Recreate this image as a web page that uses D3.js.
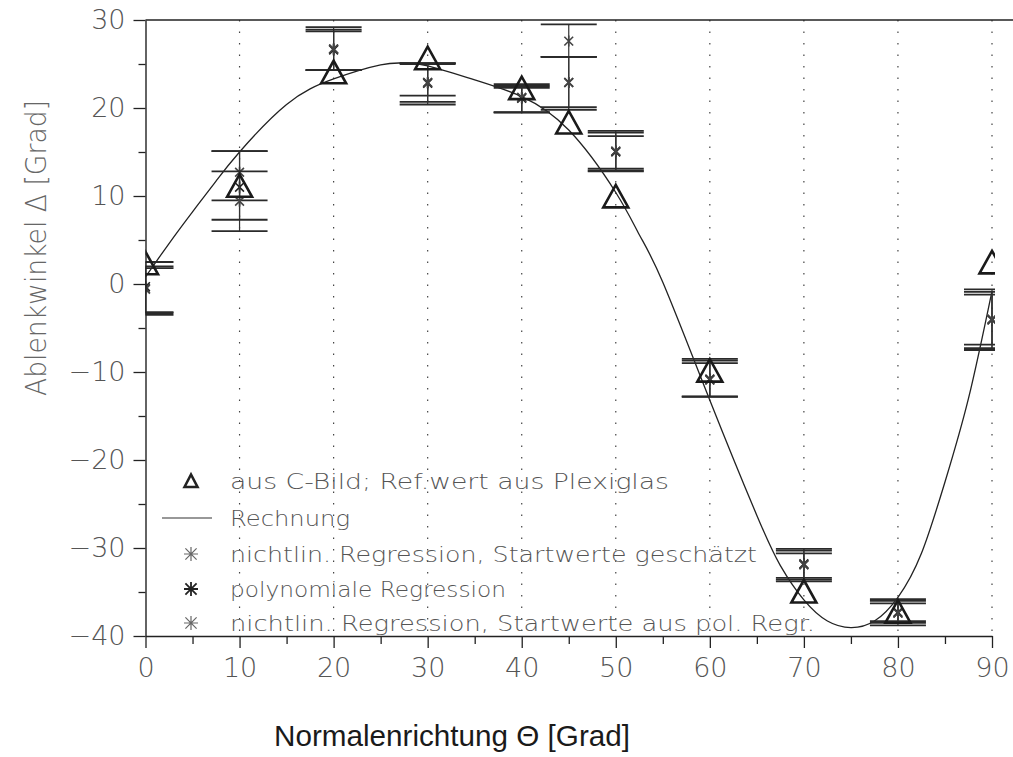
<!DOCTYPE html>
<html>
<head>
<meta charset="utf-8">
<script src="https://cdn.jsdelivr.net/npm/d3@7"></script>
<style>
  body { margin: 0; background: #fff; }
  text { font-family: "DejaVu Sans", sans-serif; font-weight: 200; }
</style>
</head>
<body>
<svg id="chart"></svg>
<script>
// Messwinkel (Grad)
const theta = [0, 10, 20, 30, 40, 45, 50, 60, 70, 80, 90];

// aus C-Bild; Ref.wert aus Plexiglas
const cBild = [2.3, 11.1, 24.0, 25.6, 22.2, 18.3, 9.9, -9.9, -35.0, -37.3, 2.4];

// Rechnung
const calcTheta = [0, 2.5, 5, 7.5, 10, 15, 20, 25, 27.5, 30, 35, 40, 45, 50, 52.5, 55, 60, 65, 67.5, 70, 72.5, 75, 77.5, 80, 82.5, 85, 87.5, 90];
const calcDelta = [0.8, 4.6, 8.2, 11.7, 15.0, 20.4, 23.3, 24.9, 25.1, 24.8, 23.2, 21.3, 17.5, 10.4, 5.6, 0.2, -13.2, -26.3, -32.0, -35.9, -38.3, -39.05, -38.3, -35.6, -30.6, -22.5, -13.0, -0.8];

// nichtlin. Regression, Startwerte geschätzt
const nlGesch   = [-0.5, 12.7, 26.7, 22.9, 21.2, 27.6, 15.1, -10.9, -31.9, -37.4, -4.0];
const nlGeschLo = [-3.3, 9.5, 24.3, 21.4, 19.5, 25.8, 12.9, -12.8, -33.4, -38.3, -6.9];
const nlGeschHi = [2.5, 15.1, 29.2, 25.1, 22.7, 29.5, 17.4, -8.5, -30.1, -35.8, -0.6];

// polynomiale Regression
const polyReg   = [-0.3, 11.0, 26.6, 22.8, 21.1, 22.9, 15.0, -10.8, -31.8, -37.3, -4.1];
const polyRegLo = [-3.5, 6.0, 24.3, 20.7, 19.5, 19.8, 12.8, -12.8, -33.8, -38.8, -7.5];
const polyRegHi = [1.8, 15.1, 28.9, 25.0, 22.3, 25.8, 16.8, -9.0, -30.6, -36.3, -1.2];

// nichtlin. Regression, Startwerte aus pol. Regr.
const nlPol   = [-0.6, 9.4, 26.7, 22.9, 21.2, 22.9, 15.1, -10.9, -31.9, -37.4, -4.0];
const nlPolLo = [-3.2, 7.3, 24.3, 20.4, 19.5, 20.1, 13.1, -12.8, -33.6, -38.5, -7.3];
const nlPolHi = [2.0, 12.8, 28.7, 25.1, 22.5, 25.8, 17.2, -8.7, -30.3, -36.0, -0.9];

const xMajor = d3.range(0, 91, 10);
const xMinor = d3.range(5, 90, 10);
const yMajor = d3.range(-40, 31, 10);
const yMinor = d3.range(-35, 30, 10);

const legendLabels = [
  "aus C-Bild; Ref.wert aus Plexiglas",
  "Rechnung",
  "nichtlin. Regression, Startwerte geschätzt",
  "polynomiale Regression",
  "nichtlin. Regression, Startwerte aus pol. Regr."
];

const W = 1013, H = 757;
const mLeft = 145.5, mRight = 992, mTop = 20, mBottom = 636;

const svg = d3.select("#chart").attr("width", W).attr("height", H);
svg.append("rect").attr("width", W).attr("height", H).attr("fill", "#fff");

const x = d3.scaleLinear().domain([0, 90]).range([mLeft, mRight]);
const y = d3.scaleLinear().domain([-40, 30]).range([mBottom, mTop]);

svg.append("defs").append("clipPath").attr("id", "plotclip")
  .append("rect").attr("x", mLeft).attr("y", 0).attr("width", mRight - mLeft + 3).attr("height", H);

// dotted grid
svg.append("g").selectAll("line").data(xMajor.slice(1)).join("line")
  .attr("x1", d => x(d)).attr("x2", d => x(d))
  .attr("y1", mTop).attr("y2", mBottom)
  .attr("stroke", "#444").attr("stroke-width", 1.2)
  .attr("stroke-dasharray", "1.5,10");

// top frame line
svg.append("line")
  .attr("x1", mLeft).attr("x2", W).attr("y1", mTop).attr("y2", mTop)
  .attr("stroke", "#222").attr("stroke-width", 1.4);

const plot = svg.append("g").attr("clip-path", "url(#plotclip)");

// Rechnung
plot.append("path")
  .datum(calcTheta.map((t, i) => [t, calcDelta[i]]))
  .attr("fill", "none").attr("stroke", "#222").attr("stroke-width", 1.3)
  .attr("d", d3.line().x(d => x(d[0])).y(d => y(d[1])).curve(d3.curveNatural));

// error bars + asterisks
const regSeries = [
  { val: nlGesch, lo: nlGeschLo, hi: nlGeschHi, color: "#444" },
  { val: polyReg, lo: polyRegLo, hi: polyRegHi, color: "#222" },
  { val: nlPol, lo: nlPolLo, hi: nlPolHi, color: "#444" }
];
const capW = 28;
function asterisk(r) {
  const d = r * 0.8;
  return `M0,${-r}V${r}M${-d},${-d}L${d},${d}M${-d},${d}L${d},${-d}`;
}

regSeries.forEach(s => {
  const g = plot.append("g");
  const rows = theta.map((t, i) => ({ t, v: s.val[i], lo: s.lo[i], hi: s.hi[i] }));
  g.selectAll("line.v").data(rows).join("line").attr("class", "v")
    .attr("x1", d => x(d.t)).attr("x2", d => x(d.t))
    .attr("y1", d => y(d.lo)).attr("y2", d => y(d.hi))
    .attr("stroke", "#333").attr("stroke-width", 1.2);
  ["lo", "hi"].forEach(k => {
    g.selectAll("line." + k).data(rows).join("line").attr("class", k)
      .attr("x1", d => x(d.t) - capW).attr("x2", d => x(d.t) + capW)
      .attr("y1", d => y(d[k])).attr("y2", d => y(d[k]))
      .attr("stroke", "#2a2a2a").attr("stroke-width", 1.8);
  });
  g.selectAll("path").data(rows).join("path")
    .attr("transform", d => `translate(${x(d.t)},${y(d.v)})`)
    .attr("d", asterisk(5.5))
    .attr("fill", "none").attr("stroke", s.color).attr("stroke-width", 1.6);
});

// triangles
const tri = "M-12.5,10.5L0,-12L12.5,10.5Z";
plot.append("g").selectAll("path").data(theta.map((t, i) => [t, cBild[i]])).join("path")
  .attr("transform", d => `translate(${x(d[0])},${y(d[1])})`)
  .attr("d", tri)
  .attr("fill", "none").attr("stroke", "#1a1a1a").attr("stroke-width", 2.6)
  .attr("stroke-linejoin", "miter");

// axes
const axisColor = "#222";
const labelColor = "#555";

svg.append("g").attr("transform", `translate(${mLeft},0)`)
  .call(d3.axisLeft(y).tickValues(yMajor).tickSize(12).tickSizeOuter(0).tickPadding(8).tickFormat(d3.format("d")));
svg.append("g").attr("transform", `translate(${mLeft},0)`)
  .call(d3.axisLeft(y).tickValues(yMinor).tickSize(7).tickSizeOuter(0).tickFormat(""))
  .select(".domain").remove();

svg.append("g").attr("transform", `translate(0,${mBottom})`)
  .call(d3.axisBottom(x).tickValues(xMajor).tickSize(12).tickSizeOuter(0).tickPadding(10).tickFormat(d3.format("d")));
svg.append("g").attr("transform", `translate(0,${mBottom})`)
  .call(d3.axisBottom(x).tickValues(xMinor).tickSize(8).tickSizeOuter(0).tickFormat(""))
  .select(".domain").remove();

svg.selectAll(".domain").attr("stroke", axisColor).attr("stroke-width", 1.4);
svg.selectAll(".tick line").attr("stroke", axisColor).attr("stroke-width", 1.3);
svg.selectAll(".tick text")
  .attr("font-family", "DejaVu Sans, sans-serif").attr("font-weight", 200)
  .attr("font-size", 27).attr("fill", labelColor);

// axis titles
svg.append("text")
  .attr("transform", "translate(46,248) rotate(-90)")
  .attr("text-anchor", "middle")
  .attr("font-size", 29).attr("fill", "#666")
  .attr("textLength", 296).attr("lengthAdjust", "spacingAndGlyphs")
  .text("Ablenkwinkel Δ [Grad]");

svg.append("text")
  .attr("x", 452).attr("y", 746)
  .attr("text-anchor", "middle")
  .style("font-family", "'Liberation Sans Narrow', 'Liberation Sans', Arial, sans-serif")
  .style("font-weight", 400)
  .attr("font-size", 30).attr("fill", "#1a1a1a")
  .attr("textLength", 356).attr("lengthAdjust", "spacingAndGlyphs")
  .text("Normalenrichtung Θ  [Grad]");

// legend
const legY = [481, 518, 554, 589, 623];
const legLen = [439, 120, 527, 276, 585];
const leg = svg.append("g");
leg.append("path").attr("transform", `translate(191,${legY[0]})`)
  .attr("d", "M-6.5,6L0,-6.5L6.5,6Z")
  .attr("fill", "none").attr("stroke", "#222").attr("stroke-width", 2.6);
leg.append("line").attr("x1", 162).attr("x2", 212).attr("y1", legY[1]).attr("y2", legY[1])
  .attr("stroke", "#333").attr("stroke-width", 1.2);
[2, 3, 4].forEach((r, k) => {
  leg.append("path").attr("transform", `translate(191,${legY[r]})`)
    .attr("d", asterisk(7) + "M-7,0H7")
    .attr("fill", "none").attr("stroke", k === 1 ? "#222" : "#666").attr("stroke-width", k === 1 ? 1.8 : 1.2);
});
leg.selectAll("text").data(legendLabels).join("text")
  .attr("x", 230).attr("y", (d, i) => legY[i] + 8)
  .attr("font-size", 22).attr("fill", "#555")
  .attr("textLength", (d, i) => legLen[i]).attr("lengthAdjust", "spacingAndGlyphs")
  .text(d => d);
</script>
</body>
</html>
